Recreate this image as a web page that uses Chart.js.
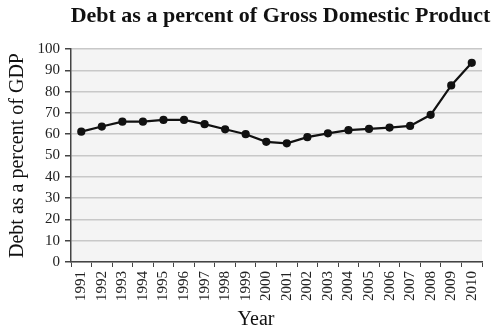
<!DOCTYPE html>
<html>
<head>
<meta charset="utf-8">
<script src="https://cdn.jsdelivr.net/npm/chart.js@4.4.0/dist/chart.umd.min.js"></script>
<style>
  html, body { margin: 0; padding: 0; background: #fff; }
  #wrap { width: 494px; height: 331px; }
</style>
</head>
<body>
<div id="wrap"><canvas id="debtChart" width="494" height="331"></canvas></div>
<script>
var years = ["1991", "1992", "1993", "1994", "1995", "1996", "1997", "1998", "1999", "2000",
             "2001", "2002", "2003", "2004", "2005", "2006", "2007", "2008", "2009", "2010"];
var debtPct = [61.2, 63.6, 65.9, 65.9, 66.7, 66.7, 64.7, 62.3, 60.0, 56.4,
               55.7, 58.6, 60.4, 61.9, 62.5, 63.1, 63.9, 69.1, 82.9, 93.5];
var yTicks = [0, 10, 20, 30, 40, 50, 60, 70, 80, 90, 100];
var chartTitle = 'Debt as a percent of Gross Domestic Product';
var xTitle = 'Year';

var serif = "'Liberation Serif', 'DejaVu Serif', serif";

// grey panel behind the plot, title and x title drawn by hand
var panelBg = {
    id: 'panelBg',
    beforeDraw: function(chart) {
        var a = chart.chartArea;
        var ctx = chart.ctx;
        ctx.save();
        ctx.fillStyle = '#f4f4f4';
        ctx.fillRect(a.left, a.top, a.right - a.left, a.bottom - a.top);
        ctx.restore();
    },
    afterDraw: function(chart) {
        var a = chart.chartArea;
        var ctx = chart.ctx;
        ctx.save();
        ctx.fillStyle = '#111';
        ctx.textAlign = 'center';
        ctx.textBaseline = 'middle';
        ctx.font = 'bold 22px ' + serif;
        ctx.fillText(chartTitle, (a.left + a.right) / 2 + 4, 16);
        ctx.font = '20px ' + serif;
        ctx.fillText(xTitle, 256, 320);
        ctx.restore();
    }
};

var ctx = document.getElementById('debtChart');

var lineGraph = new Chart(ctx, {
    type: 'line',
    data: {
        labels: years,
        datasets: [{
            label: 'Debt as a percent of GDP',
            data: debtPct,
            borderColor: '#111',
            backgroundColor: '#111',
            borderWidth: 2.2,
            pointRadius: 3,
            pointBackgroundColor: '#111',
            pointBorderColor: '#111',
            fill: false,
            tension: 0
        }]
    },
    options: {
        responsive: false,
        animation: false,
        layout: { padding: { left: 0, right: 9, top: 49, bottom: 0 } },
        plugins: {
            legend: { display: false },
            tooltip: { enabled: false },
            title: { display: false }
        },
        scales: {
            x: {
                offset: true,
                afterFit: function(axis) { axis.height = 69; },
                grid: {
                    offset: true,
                    drawOnChartArea: false,
                    drawTicks: true,
                    tickLength: 5,
                    color: '#444'
                },
                border: { color: '#444', width: 1.5 },
                ticks: {
                    minRotation: 90,
                    maxRotation: 90,
                    autoSkip: false,
                    color: '#222',
                    padding: 4,
                    font: { family: serif, size: 15 }
                }
            },
            y: {
                min: 0,
                max: 100,
                afterFit: function(axis) { axis.width = 71; },
                afterBuildTicks: function(axis) {
                    axis.ticks = yTicks.map(function(v) { return { value: v }; });
                },
                grid: {
                    color: '#c8c8c8',
                    lineWidth: 1.5,
                    tickLength: 6,
                    tickColor: '#444'
                },
                border: { color: '#444', width: 1.5 },
                ticks: {
                    color: '#222',
                    padding: 5,
                    font: { family: serif, size: 15 }
                },
                title: {
                    display: true,
                    text: 'Debt as a percent of GDP',
                    color: '#111',
                    font: { family: serif, size: 20 },
                    padding: { top: 6, bottom: 0 }
                }
            }
        }
    },
    plugins: [panelBg]
});
</script>
</body>
</html>
